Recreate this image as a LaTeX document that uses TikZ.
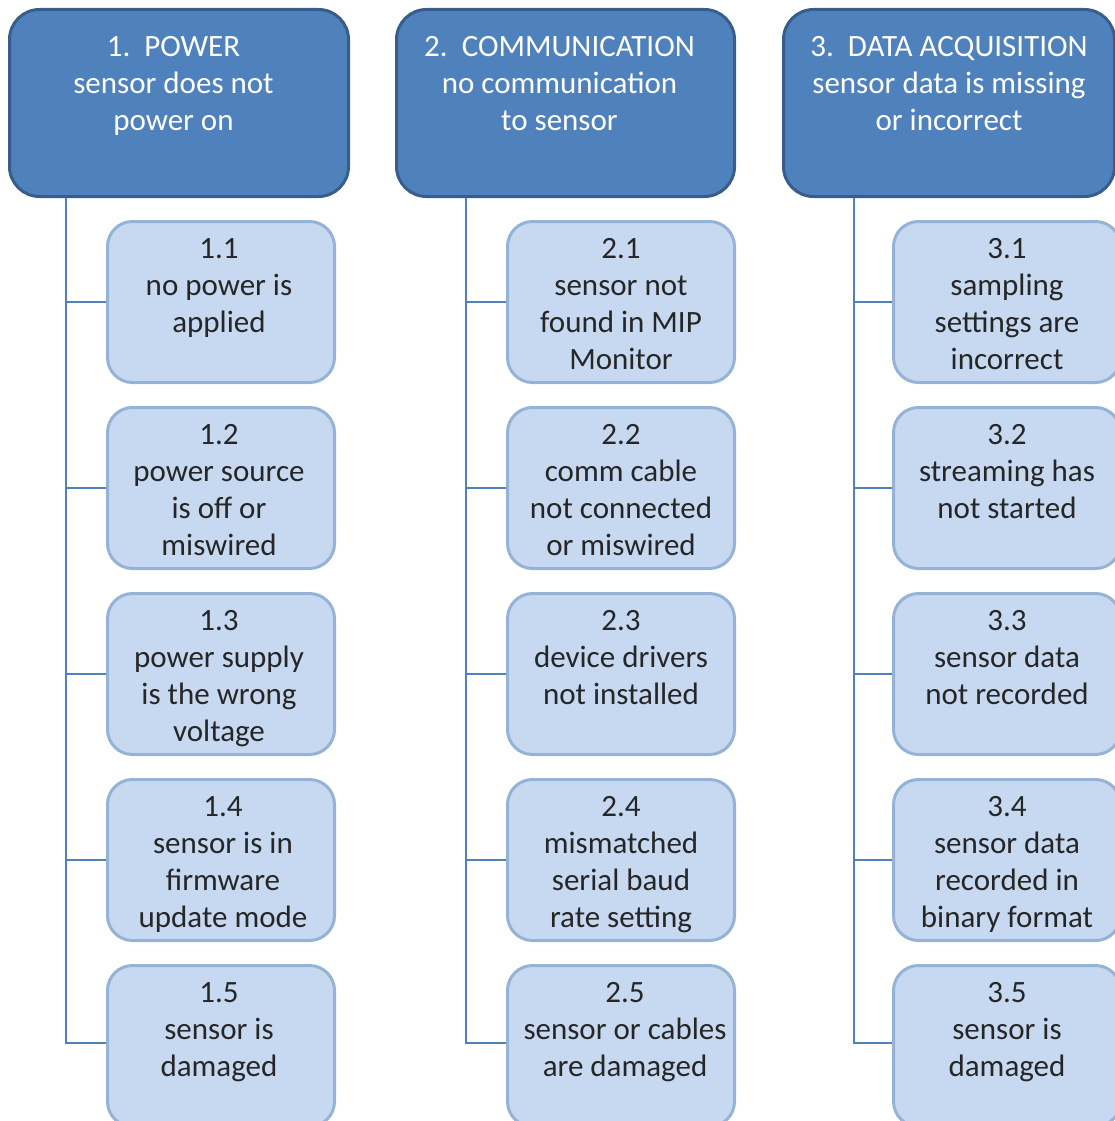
\documentclass[tikz,border=0pt]{standalone}
\usepackage{fontspec}
\setmainfont{Carlito}
\definecolor{topfill}{HTML}{4F81BD}
\definecolor{topdraw}{HTML}{385D8A}
\definecolor{kidfill}{HTML}{C6D9F1}
\definecolor{kiddraw}{HTML}{95B3D7}
\definecolor{linkcol}{HTML}{4F81BD}
\newcommand{\toptext}[2]{\parbox[c][187pt][t]{#1}{\centering\rule{0pt}{47pt}#2}}
\newcommand{\kidtext}[1]{\parbox[c][161pt][t]{227pt}{\centering\rule{0pt}{37pt}#1}}
\tikzset{
  topbox/.style={draw=topdraw, fill=topfill, line width=3pt, rounded corners=30pt,
    inner sep=0pt, text=white, font=\fontsize{31}{37}\selectfont, anchor=north west},
  kidbox/.style={draw=kiddraw, fill=kidfill, line width=3pt, rounded corners=25pt,
    inner sep=0pt, text=black!85, font=\fontsize{31}{37}\selectfont, anchor=north west},
  link/.style={draw=linkcol, line width=2pt}
}
\begin{document}
\begin{tikzpicture}[x=1pt,y=-1pt]
\useasboundingbox (0,0) rectangle (1115,1121);
\clip (0,0) rectangle (1115,1121);
% top boxes
\node[topbox] (t1) at (8,8) {\toptext{339pt}{\hspace*{-11pt}1.\ \ POWER\\\hspace*{-11pt}sensor does not\\\hspace*{-11pt}power on}};
\node[topbox] (t2) at (395,8) {\toptext{338pt}{\hspace*{-12pt}2.\ \ COMMUNICATION\\\hspace*{-12pt}no communication\\\hspace*{-12pt}to sensor}};
\node[topbox] (t3) at (782,8) {\toptext{331pt}{3.\ \ DATA ACQUISITION\\sensor data is missing\\or incorrect}};
% column 1
\node[kidbox] (c11) at (106,220) {\kidtext{\hspace*{-4pt}1.1\\\hspace*{-4pt}no power is\\\hspace*{-4pt}applied}};
\node[kidbox] (c12) at (106,406) {\kidtext{\hspace*{-4pt}1.2\\\hspace*{-4pt}power source\\\hspace*{-4pt}is off or\\\hspace*{-4pt}miswired}};
\node[kidbox] (c13) at (106,592) {\kidtext{\hspace*{-4pt}1.3\\\hspace*{-4pt}power supply\\\hspace*{-4pt}is the wrong\\\hspace*{-4pt}voltage}};
\node[kidbox] (c14) at (106,778) {\kidtext{\hspace*{4pt}1.4\\\hspace*{4pt}sensor is in\\\hspace*{4pt}firmware\\\hspace*{4pt}update mode}};
\node[kidbox] (c15) at (106,964) {\kidtext{\hspace*{-4pt}1.5\\\hspace*{-4pt}sensor is\\\hspace*{-4pt}damaged}};
% column 2
\node[kidbox] (c21) at (506,220) {\kidtext{2.1\\sensor not\\found in MIP\\Monitor}};
\node[kidbox] (c22) at (506,406) {\kidtext{2.2\\comm cable\\not connected\\or miswired}};
\node[kidbox] (c23) at (506,592) {\kidtext{2.3\\device drivers\\not installed}};
\node[kidbox] (c24) at (506,778) {\kidtext{2.4\\mismatched\\serial baud\\rate setting}};
\node[kidbox] (c25) at (506,964) {\kidtext{\hspace*{8pt}2.5\\\hspace*{8pt}sensor or cables\\\hspace*{8pt}are damaged}};
% column 3
\node[kidbox] (c31) at (892,220) {\kidtext{3.1\\sampling\\settings are\\incorrect}};
\node[kidbox] (c32) at (892,406) {\kidtext{3.2\\streaming has\\not started}};
\node[kidbox] (c33) at (892,592) {\kidtext{3.3\\sensor data\\not recorded}};
\node[kidbox] (c34) at (892,778) {\kidtext{3.4\\sensor data\\recorded in\\binary format}};
\node[kidbox] (c35) at (892,964) {\kidtext{3.5\\sensor is\\damaged}};
% connectors
\coordinate (v1) at (66,0);
\coordinate (v2) at (466,0);
\coordinate (v3) at (854,0);
\foreach \c/\v in {1/v1,2/v2,3/v3}{
  \draw[link] (t\c.south -| \v) -- ([yshift=3pt]\v |- c\c5.west) -- ([yshift=3pt]c\c5.west);
  \foreach \r in {1,2,3,4}{
    \draw[link] (\v |- c\c\r.west) -- (c\c\r.west);
  }
}
\end{tikzpicture}
\end{document}
